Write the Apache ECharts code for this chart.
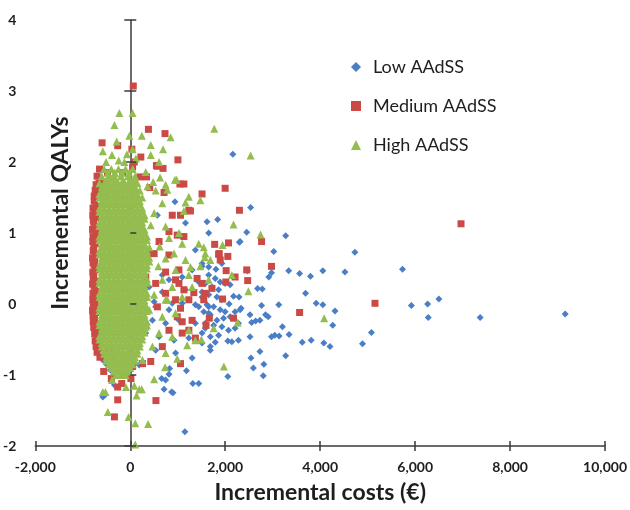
<!DOCTYPE html>
<html>
<head>
<meta charset="utf-8">
<script src="https://cdn.jsdelivr.net/npm/echarts@6/dist/echarts.min.js"></script>
<style>html,body{margin:0;padding:0;background:#fff}#c{width:630px;height:510px}</style>
</head>
<body>
<div id="c"></div>
<script>
// ---- data ----
const seriesNames = ['Low AAdSS', 'Medium AAdSS', 'High AAdSS'];
const xTickValues = [-2000, 0, 2000, 4000, 6000, 8000, 10000];
const yTickValues = [-2, -1, 0, 1, 2, 3, 4];
const xTitle = 'Incremental costs (€)';
const yTitle = 'Incremental QALYs';

// Low AAdSS (blue diamonds)
const lowPoints = [
[9160,-0.14],[7369,-0.19],[6500,0.07],[6262,0.00],[6276,-0.19],[5921,-0.02],[5733,0.49],[5079,-0.40],[4891,-0.56],[4730,0.73],
[4521,0.45],[4312,-0.10],[4264,-0.30],[4207,-0.60],[4076,-0.55],[4055,0.47],[4055,-0.01],[3915,0.01],[3810,-0.51],[3795,0.39],
[3691,0.15],[3622,-0.54],[3566,0.43],[3336,0.47],[3344,-0.43],[3273,0.96],[3273,-0.73],[3204,-0.32],[3135,-0.45],[3127,-0.01],
[3043,-0.44],[3022,0.74],[2974,0.44],[2974,-0.46],[2918,0.38],[2905,-0.18],[2849,-0.15],[2813,-0.85],[2801,-1.01],[2780,0.21],
[2765,-0.02],[2730,-0.23],[2730,-0.67],[2681,0.22],[2640,-0.24],[2592,-0.90],[2556,-0.26],[2541,-0.76],[2535,1.36],[2521,-0.15],
[2521,-0.46],[2466,0.47],[2452,1.01],[2333,-0.06],[2312,0.88],[2312,-0.08],[2299,0.87],[2291,0.10],[2278,-0.27],[2278,-0.51],
[2207,-0.11],[2207,-0.34],[2174,0.11],[2159,2.11],[2138,-0.53],[2103,0.27],[2103,-0.18],[2082,0.00],[2069,-0.37],[2054,-0.52],
[2054,-1.02],[1998,0.29],[1998,-0.11],[1965,-0.20],[1929,0.57],[1929,0.06],[1929,-0.32],[1894,0.31],[1894,-0.08],[1860,0.20],
[1860,-0.44],[1839,1.19],[1825,0.10],[1825,-0.23],[1804,0.49],[1789,0.36],[1789,-0.54],[1756,-0.04],[1756,-0.30],[1720,0.24],
[1685,-0.15],[1685,-0.46],[1685,-0.60],[1685,-0.65],[1651,0.52],[1651,0.41],[1651,0.13],[1651,1.00],[1651,-0.04],[1651,-0.13],
[1616,1.16],[1616,-0.01],[1580,0.29],[1580,-0.27],[1580,-0.34],[1547,-0.11],[1511,0.53],[1511,0.17],[1511,0.10],[1511,0.57],
[1511,-0.41],[1511,-0.55],[1442,0.31],[1442,-0.04],[1442,-1.12],[1371,0.76],[1371,-0.01],[1371,-0.27],[1317,-1.12],[1302,0.48],
[1302,-0.76],[1233,-0.48],[1183,-0.94],[1163,1.14],[1163,0.20],[1150,-1.80],[1093,0.38],[1093,0.01],[1024,-0.23],[953,-0.69],
[940,1.44],[920,-0.51],[899,-1.25],[884,0.01],[869,-1.24],[828,-0.91],[815,0.34],[815,-0.08],[815,-0.99],[744,-0.27],
[744,-1.07],[711,-1.20],[675,0.41],[675,0.17],[660,-1.05],[606,-0.46],[571,1.25],[535,-0.04],[535,-0.65],[502,0.03],
[466,-0.23],[397,0.24],[326,-0.41],[257,-0.08],[188,-0.86],[-92,-0.74],[-334,-1.14],[-370,-0.79],[-579,-0.79],[-579,-1.31],
[-500,-0.85],[-420,-0.93],[-300,-0.95],[-450,-0.70],[-535,-1.28]
];

// Medium AAdSS (red squares)
const mediumScatter = [
[63,3.07],[382,2.46],[731,2.40],[-594,2.27],[-265,2.23],[1003,2.03],[84,2.00],[-648,1.90],[-161,1.85],[571,1.94],
[690,1.91],[201,1.79],[341,1.79],[-614,1.72],[-510,1.70],[63,1.72],[410,1.64],[1045,1.69],[1511,1.55],[711,1.57],
[48,1.93],[1998,1.63],[2299,1.32],[1267,1.31],[1129,1.69],[222,2.07],[33,2.18],[550,1.95],
[6966,1.13],[5154,0.01],[3566,-0.12],[2765,0.88],[2069,0.86],[1777,0.84],[1873,0.71],[2054,0.67],[2974,0.53],[2019,0.47],
[2207,0.38],[2013,0.31],[2472,0.33],[2452,0.48],[1720,0.22],[1547,0.06],[1944,0.07],[1664,-0.20],[2174,-0.20],[1595,-0.30],
[1860,0.70],[1511,0.29],[1338,0.16],[1093,-0.25],[1233,-0.37],[1371,-0.48],[989,-0.18],[1129,0.20],[953,0.34],[1024,0.48],
[1894,0.62],[815,0.69],[397,0.71],
[884,1.25],[1058,1.25],[1233,1.32],[815,1.02],[989,0.97],[1129,0.95],[606,0.88],[502,0.71],[744,0.45],[326,0.38],
[535,0.29],[1024,0.29],[1407,0.36],[744,0.15],[953,0.06],[1233,0.06],[1580,0.15],[571,-0.04],
[-648,-0.32],[-683,-0.48],[-439,-0.65],[-230,-0.91],[48,-0.88],[257,-0.84],[675,-0.60],[815,-0.37],[1093,-0.41],[1302,-0.23],
[1058,-0.06],[-579,-0.08],[-334,-0.79],[-125,-0.98],[431,-0.81],
[540,-1.36],[-334,-1.59],[-265,-1.35],[-265,-1.17],[13,-1.05],[1058,-0.84],[-400,-1.05],[-560,-0.95],[-180,-1.12]
];
const mediumEdge = [
[-700,1.80],[-620,1.60],[-560,1.55],[-480,1.85],[-400,1.75],[-660,1.70],[-680,1.62],[-700,1.55],[-760,1.52],[-740,1.60],[-720,1.68],
[-760,1.45],[-720,1.38],[-750,1.30],[-730,1.22],[-770,1.15],[-740,1.08],[-720,1.00],[-760,0.92],[-740,0.85],[-770,0.78],
[-730,0.70],[-750,0.62],[-760,0.55],[-735,0.48],[-770,0.40],[-745,0.32],[-760,0.25],[-730,0.18],[-770,0.10],[-740,0.02],
[-760,-0.05],[-730,-0.12],[-755,-0.20],[-740,-0.28],[-720,-0.36],[-700,-0.45],[-690,-0.55],[-660,-0.62],
[-785,1.35],[-790,1.25],[-780,1.18],[-795,1.05],[-785,0.95],[-790,0.88],[-780,0.75],[-795,0.65],[-785,0.58],[-790,0.45],
[-780,0.36],[-795,0.28],[-785,0.15],[-790,0.06],[-780,-0.02],[-795,-0.09],[-785,-0.16],[-780,-0.25],[-770,-0.33],[-750,-0.42],
[-740,-0.52],[-720,-0.60],[-700,-0.68],[-640,-0.75]
];

// High AAdSS (green triangles)
const highScatter = [
[-230,2.69],[48,2.69],[-334,2.52],[-21,2.37],[242,2.37],[849,2.35],[-286,2.29],[48,2.18],[431,2.24],[690,2.18],
[-579,2.15],[-385,2.10],[-71,2.11],[431,2.10],[-245,2.02],[-125,2.00],[117,2.05],[-510,2.00],[326,1.86],[627,1.78],
[974,1.75],[-334,1.84],[481,1.72],[1233,1.51],[84,1.64],[362,1.66],[535,1.60],[780,1.61],[1476,1.46],[1768,2.47],
[2535,2.09],[606,2.00],[940,1.75],[1129,1.31],[744,1.68],[2174,1.12],[2744,0.98],[1944,0.83],[2487,0.18],[1971,-0.88],
[2263,-0.26],[1756,-0.34],[1547,0.80],[1685,0.62],[1568,0.66],[4082,-0.20],[1267,0.52],[2138,0.41],[1198,-0.58],[1497,-0.50],
[-385,-1.07],[-579,-1.24],[104,-1.98],[-36,-1.59],[104,-1.68],[376,-1.69],[-474,-1.52],[132,-1.29],[242,-1.20],[502,-1.06],
[732,-0.89],[989,-0.77],[84,-1.15],[188,-1.20],[-92,-1.17],[-523,-1.24],
[675,1.42],[1163,1.43],[502,1.28],[431,1.11],[744,1.09],[1024,1.00],[815,0.93],[1093,0.85],[619,0.81],[920,0.71],
[744,0.64],[1163,0.62],[592,0.53],[953,0.48],[1233,0.41],[675,0.34],[884,0.24],[1093,0.10],[1442,0.85],[1580,0.71],
[1302,0.24],[502,0.13],[780,0.06],[1476,0.53],[1651,0.34],
[744,0.06],[397,-0.08],[675,-0.18],[953,-0.13],[326,-0.32],[606,-0.41],[884,-0.46],[1233,-0.37],[466,-0.60],[744,-0.69],
[257,-0.79],[1371,-0.51]
];
const highCoreTop = [
[-550,1.9],[-400,1.9],[-250,1.9],[-100,1.9],[50,1.9],
[-475,1.85],[-325,1.85],[-175,1.85],[-25,1.85],
[-600,1.8],[-450,1.8],[-350,1.8],[-200,1.8],[-50,1.8],[100,1.8],
[-500,1.75],[-400,1.75],[-300,1.75],[-150,1.75],[0,1.75],[100,1.75],
[-650,1.7],[-550,1.7],[-450,1.7],[-350,1.7],[-250,1.7],[-150,1.7],[-50,1.7],[50,1.7],[150,1.7],
[-600,1.65],[-500,1.65],[-400,1.65],[-300,1.65],[-200,1.65],[-100,1.65],[0,1.65],[100,1.65],
[-600,1.6],[-500,1.6],[-400,1.6],[-300,1.6],[-200,1.6],[-100,1.6],[0,1.6],[100,1.6],[200,1.6],
[-650,1.55],[-550,1.55],[-450,1.55],[-350,1.55],[-250,1.55],[-150,1.55],[-50,1.55],[50,1.55],[150,1.55],
[-650,1.5],[-550,1.5],[-450,1.5],[-350,1.5],[-250,1.5],[-150,1.5],[-50,1.5],[50,1.5],[150,1.5],[250,1.5],
[-600,1.45],[-500,1.45],[-400,1.45],[-300,1.45],[-200,1.45],[-100,1.45],[0,1.45],[100,1.45],[200,1.45],
[-600,1.4],[-500,1.4],[-400,1.4],[-300,1.4],[-200,1.4],[-100,1.4],[0,1.4],[100,1.4],[200,1.4],
[-650,1.35],[-550,1.35],[-450,1.35],[-350,1.35],[-250,1.35],[-150,1.35],[-50,1.35],[50,1.35],[150,1.35],[250,1.35],
[-650,1.3],[-550,1.3],[-450,1.3],[-350,1.3],[-250,1.3],[-150,1.3],[-50,1.3],[50,1.3],[150,1.3],[250,1.3],
[-600,1.25],[-500,1.25],[-400,1.25],[-300,1.25],[-200,1.25],[-100,1.25],[0,1.25],[100,1.25],[200,1.25],[300,1.25],
[-600,1.2],[-500,1.2],[-400,1.2],[-300,1.2],[-200,1.2],[-100,1.2],[0,1.2],[100,1.2],[200,1.2],[300,1.2],
[-650,1.15],[-550,1.15],[-450,1.15],[-350,1.15],[-250,1.15],[-150,1.15],[-50,1.15],[50,1.15],[150,1.15],[250,1.15],
[-650,1.1],[-550,1.1],[-450,1.1],[-350,1.1],[-250,1.1],[-150,1.1],[-50,1.1],[50,1.1],[150,1.1],[250,1.1],
[-600,1.05],[-500,1.05],[-400,1.05],[-300,1.05],[-200,1.05],[-100,1.05],[0,1.05],[100,1.05],[200,1.05],[300,1.05]
];
const highCoreMid = [
[-600,1.0],[-500,1.0],[-400,1.0],[-300,1.0],[-200,1.0],[-100,1.0],[0,1.0],[100,1.0],[200,1.0],[300,1.0],
[-650,0.95],[-550,0.95],[-450,0.95],[-350,0.95],[-250,0.95],[-150,0.95],[-50,0.95],[50,0.95],[150,0.95],[250,0.95],[350,0.95],
[-650,0.9],[-550,0.9],[-450,0.9],[-350,0.9],[-250,0.9],[-150,0.9],[-50,0.9],[50,0.9],[150,0.9],[250,0.9],[350,0.9],
[-600,0.85],[-500,0.85],[-400,0.85],[-300,0.85],[-200,0.85],[-100,0.85],[0,0.85],[100,0.85],[200,0.85],[300,0.85],
[-600,0.8],[-500,0.8],[-400,0.8],[-300,0.8],[-200,0.8],[-100,0.8],[0,0.8],[100,0.8],[200,0.8],[300,0.8],[400,0.8],
[-650,0.75],[-550,0.75],[-450,0.75],[-350,0.75],[-250,0.75],[-150,0.75],[-50,0.75],[50,0.75],[150,0.75],[250,0.75],[350,0.75],
[-650,0.7],[-550,0.7],[-450,0.7],[-350,0.7],[-250,0.7],[-150,0.7],[-50,0.7],[50,0.7],[150,0.7],[250,0.7],[350,0.7],
[-600,0.65],[-500,0.65],[-400,0.65],[-300,0.65],[-200,0.65],[-100,0.65],[0,0.65],[100,0.65],[200,0.65],[300,0.65],[400,0.65],
[-600,0.6],[-500,0.6],[-400,0.6],[-300,0.6],[-200,0.6],[-100,0.6],[0,0.6],[100,0.6],[200,0.6],[300,0.6],[400,0.6],
[-650,0.55],[-550,0.55],[-450,0.55],[-350,0.55],[-250,0.55],[-150,0.55],[-50,0.55],[50,0.55],[150,0.55],[250,0.55],[350,0.55],
[-650,0.5],[-550,0.5],[-450,0.5],[-350,0.5],[-250,0.5],[-150,0.5],[-50,0.5],[50,0.5],[150,0.5],[250,0.5],[350,0.5],
[-600,0.45],[-500,0.45],[-400,0.45],[-300,0.45],[-200,0.45],[-100,0.45],[0,0.45],[100,0.45],[200,0.45],[300,0.45],
[-600,0.4],[-500,0.4],[-400,0.4],[-300,0.4],[-200,0.4],[-100,0.4],[0,0.4],[100,0.4],[200,0.4],[300,0.4],
[-650,0.35],[-550,0.35],[-450,0.35],[-350,0.35],[-250,0.35],[-150,0.35],[-50,0.35],[50,0.35],[150,0.35],[250,0.35],[350,0.35],
[-650,0.3],[-550,0.3],[-450,0.3],[-350,0.3],[-250,0.3],[-150,0.3],[-50,0.3],[50,0.3],[150,0.3],[250,0.3],[350,0.3],
[-600,0.25],[-500,0.25],[-400,0.25],[-300,0.25],[-200,0.25],[-100,0.25],[0,0.25],[100,0.25],[200,0.25],[300,0.25],
[-600,0.2],[-500,0.2],[-400,0.2],[-300,0.2],[-200,0.2],[-100,0.2],[0,0.2],[100,0.2],[200,0.2],[300,0.2],
[-650,0.15],[-550,0.15],[-450,0.15],[-350,0.15],[-250,0.15],[-150,0.15],[-50,0.15],[50,0.15],[150,0.15],[250,0.15],[350,0.15],
[-650,0.1],[-550,0.1],[-450,0.1],[-350,0.1],[-250,0.1],[-150,0.1],[-50,0.1],[50,0.1],[150,0.1],[250,0.1],[350,0.1],
[-600,0.05],[-500,0.05],[-400,0.05],[-300,0.05],[-200,0.05],[-100,0.05],[0,0.05],[100,0.05],[200,0.05],[300,0.05]
];
const highCoreLow = [
[-600,0.0],[-500,0.0],[-400,0.0],[-300,0.0],[-200,0.0],[-100,0.0],[0,0.0],[100,0.0],[200,0.0],[300,0.0],
[-650,-0.05],[-550,-0.05],[-450,-0.05],[-350,-0.05],[-250,-0.05],[-150,-0.05],[-50,-0.05],[50,-0.05],[150,-0.05],[250,-0.05],[350,-0.05],
[-650,-0.1],[-550,-0.1],[-450,-0.1],[-350,-0.1],[-250,-0.1],[-150,-0.1],[-50,-0.1],[50,-0.1],[150,-0.1],[250,-0.1],[350,-0.1],
[-600,-0.15],[-500,-0.15],[-400,-0.15],[-300,-0.15],[-200,-0.15],[-100,-0.15],[0,-0.15],[100,-0.15],[200,-0.15],[300,-0.15],
[-600,-0.2],[-500,-0.2],[-400,-0.2],[-300,-0.2],[-200,-0.2],[-100,-0.2],[0,-0.2],[100,-0.2],[200,-0.2],[300,-0.2],
[-650,-0.25],[-550,-0.25],[-450,-0.25],[-350,-0.25],[-250,-0.25],[-150,-0.25],[-50,-0.25],[50,-0.25],[150,-0.25],[250,-0.25],[350,-0.25],
[-650,-0.3],[-550,-0.3],[-450,-0.3],[-350,-0.3],[-250,-0.3],[-150,-0.3],[-50,-0.3],[50,-0.3],[150,-0.3],[250,-0.3],[350,-0.3],
[-600,-0.35],[-500,-0.35],[-400,-0.35],[-300,-0.35],[-200,-0.35],[-100,-0.35],[0,-0.35],[100,-0.35],[200,-0.35],[300,-0.35],
[-600,-0.4],[-500,-0.4],[-400,-0.4],[-300,-0.4],[-200,-0.4],[-100,-0.4],[0,-0.4],[100,-0.4],[200,-0.4],[300,-0.4],
[-650,-0.45],[-550,-0.45],[-450,-0.45],[-350,-0.45],[-250,-0.45],[-150,-0.45],[-50,-0.45],[50,-0.45],[150,-0.45],[250,-0.45],
[-650,-0.5],[-550,-0.5],[-450,-0.5],[-350,-0.5],[-250,-0.5],[-150,-0.5],[-50,-0.5],[50,-0.5],[150,-0.5],[250,-0.5],
[-600,-0.55],[-500,-0.55],[-400,-0.55],[-300,-0.55],[-200,-0.55],[-100,-0.55],[0,-0.55],[100,-0.55],[200,-0.55],
[-600,-0.6],[-500,-0.6],[-400,-0.6],[-300,-0.6],[-200,-0.6],[-100,-0.6],[0,-0.6],[100,-0.6],[200,-0.6],
[-550,-0.65],[-450,-0.65],[-350,-0.65],[-250,-0.65],[-150,-0.65],[-50,-0.65],[50,-0.65],[150,-0.65],
[-550,-0.7],[-450,-0.7],[-350,-0.7],[-250,-0.7],[-150,-0.7],[-50,-0.7],[50,-0.7],[150,-0.7],
[-500,-0.75],[-400,-0.75],[-300,-0.75],[-200,-0.75],[-100,-0.75],[0,-0.75],[100,-0.75],
[-500,-0.8],[-400,-0.8],[-300,-0.8],[-200,-0.8],[-100,-0.8],[0,-0.8],[100,-0.8],
[-450,-0.85],[-350,-0.85],[-250,-0.85],[-150,-0.85],[-50,-0.85],[50,-0.85],
[-400,-0.9],[-300,-0.9],[-200,-0.9],[-100,-0.9],[0,-0.9],
[-350,-0.95],[-250,-0.95],[-150,-0.95],[-50,-0.95],
[-300,-1.0],[-200,-1.0],[-100,-1.0]
];

// ---- chart ----
const colors = ['#4a7fc6', '#cc4a45', '#94bd4f'];
const symbols = ['diamond', 'rect', 'triangle'];
const font = 'Lato';
const axisColor = '#3a3a3a';
const textColor = '#1e1e1e';
const thousands = v => String(v).replace(/\B(?=(\d{3})+(?!\d))/g, ',');

const chart = echarts.init(document.getElementById('c'), null, {renderer: 'canvas'});
const xMin = xTickValues[0], xMax = xTickValues[xTickValues.length - 1], xStep = xTickValues[1] - xTickValues[0];
const yMin = yTickValues[0], yMax = yTickValues[yTickValues.length - 1], yStep = yTickValues[1] - yTickValues[0];

chart.setOption({
  animation: false,
  backgroundColor: '#ffffff',
  grid: {left: 33, right: 24, top: 20, bottom: 64, containLabel: false},
  legend: {
    orient: 'vertical', left: 346, top: 53, itemWidth: 10, itemHeight: 10, itemGap: 21,
    textStyle: {fontFamily: font, fontSize: 18, color: textColor, padding: [0, 0, 0, 7]},
    data: seriesNames.map((n, i) => ({name: n, icon: symbols[i]}))
  },
  xAxis: [{
    type: 'value', min: xMin, max: xMax, interval: xStep,
    axisLine: {onZero: false, lineStyle: {color: axisColor, width: 1.5}},
    axisTick: {length: 5, lineStyle: {color: axisColor, width: 1.5}},
    splitLine: {show: false},
    axisLabel: {margin: 14, fontFamily: font, fontWeight: 'bold', fontSize: 14, color: textColor, formatter: thousands},
    name: xTitle, nameLocation: 'middle', nameGap: 35,
    nameTextStyle: {fontFamily: font, fontWeight: 'bold', fontSize: 23, color: textColor}
  }, {
    type: 'value', min: xMin, max: xMax, interval: xStep, position: 'bottom',
    axisLine: {show: false, onZero: false},
    axisTick: {inside: true, length: 5, lineStyle: {color: axisColor, width: 1.5}},
    axisLabel: {show: false}, splitLine: {show: false}
  }],
  yAxis: [{
    type: 'value', min: yMin, max: yMax, interval: yStep, position: 'left',
    axisLine: {onZero: true, lineStyle: {color: axisColor, width: 1.5}},
    axisTick: {length: 6, lineStyle: {color: axisColor, width: 1.5}},
    axisLabel: {show: false}, splitLine: {show: false}
  }, {
    type: 'value', min: yMin, max: yMax, interval: yStep, position: 'left', z: 10,
    axisLine: {show: false, onZero: true},
    axisTick: {inside: true, length: 6, lineStyle: {color: axisColor, width: 1.5}},
    axisLabel: {margin: 19, fontFamily: font, fontWeight: 'bold', fontSize: 14, color: textColor},
    splitLine: {show: false}
  }],
  graphic: [{
    type: 'text', x: 61, y: 213, rotation: Math.PI / 2,
    style: {text: yTitle, font: 'bold 23px Lato', fill: textColor, align: 'center', verticalAlign: 'middle'}
  }],
  series: [
    {name: seriesNames[0], type: 'scatter', symbol: symbols[0], symbolSize: 7,
     itemStyle: {color: colors[0], opacity: 1}, data: lowPoints},
    {name: seriesNames[1], type: 'scatter', symbol: symbols[1], symbolSize: 7,
     itemStyle: {color: colors[1], opacity: 1}, data: mediumEdge.concat(mediumScatter)},
    {name: seriesNames[2], type: 'scatter', symbol: symbols[2], symbolSize: 8,
     itemStyle: {color: colors[2], opacity: 1}, data: highCoreTop.concat(highCoreMid, highCoreLow, highScatter)}
  ]
});
</script>
</body>
</html>
